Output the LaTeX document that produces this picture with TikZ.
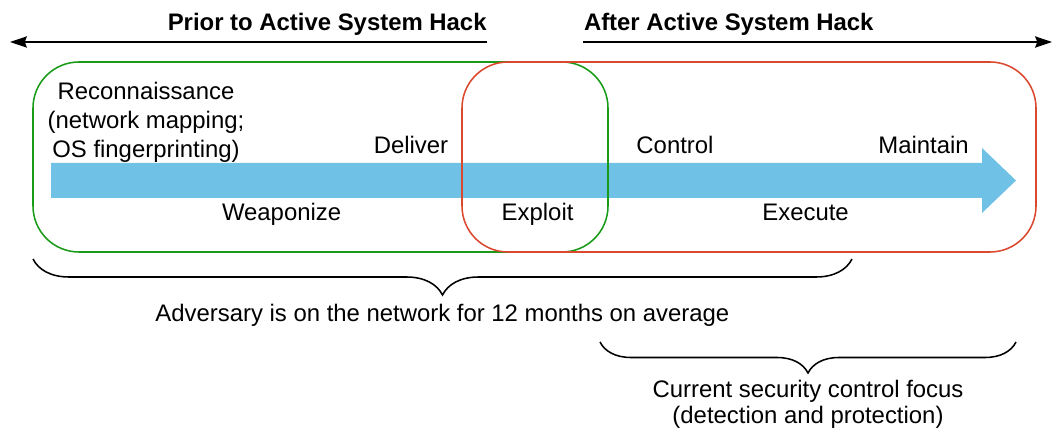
\documentclass[tikz,border=0pt]{standalone}
\usepackage{fontspec}
\setmainfont{Liberation Sans}
\usetikzlibrary{arrows.meta,decorations.pathreplacing}

\definecolor{hackgreen}{RGB}{25,155,25}
\definecolor{hackred}{RGB}{218,72,45}
\definecolor{flowblue}{RGB}{111,194,230}

\tikzset{
  txt/.style={font=\fontsize{17}{20}\selectfont, inner sep=0pt},
  phase/.style={txt, anchor=base},
  heading/.style={txt, anchor=base, font=\fontsize{17}{20}\selectfont\bfseries},
  timeline/.style={line width=1.1pt, -{Stealth[length=12pt,width=8pt,inset=1.5pt]}},
  stagebox/.style={line width=1.1pt, rounded corners=1.15cm},
  curly/.style={line width=1.1pt, decorate, decoration={brace, amplitude=#1}}
}

\begin{document}
\begin{tikzpicture}
\useasboundingbox (0,0) rectangle (26.3,-10.75);

% headings and timeline arrows
\node[heading] (prior) at (8.18,-0.775) {Prior to Active System Hack};
\node[heading] (after) at (18.22,-0.775) {After Active System Hack};
\coordinate (priorstart) at (12.175,-1.05);
\coordinate (priorend) at (0.25,-1.05);
\coordinate (afterstart) at (14.575,-1.05);
\coordinate (afterend) at (26.3,-1.05);
\draw[timeline] (priorstart) -- (priorend);
\draw[timeline] (afterstart) -- (afterend);

% kill chain arrow
\fill[flowblue] (1.275,-4.075) -- (24.55,-4.075) -- (24.55,-3.7) -- (25.4,-4.5125)
  -- (24.55,-5.325) -- (24.55,-4.95) -- (1.275,-4.95) -- cycle;

% before / after boxes
\draw[stagebox, hackgreen] (0.825,-1.55) rectangle (15.2,-6.3);
\draw[stagebox, hackred] (11.55,-1.55) rectangle (25.9,-6.3);

% stages
\node[txt, anchor=north, align=center, font=\fontsize{17}{20.5}\selectfont] (recon) at (3.65,-2.05)
  {Reconnaissance\\(network mapping;\\OS fingerprinting)};
\node[phase] (deliver) at (10.275,-3.85) {Deliver};
\node[phase] (control) at (16.875,-3.85) {Control};
\node[phase] (maintain) at (23.09,-3.85) {Maintain};
\node[phase] (weaponize) at (7.04,-5.525) {Weaponize};
\node[phase] (exploit) at (13.44,-5.525) {Exploit};
\node[phase] (execute) at (20.14,-5.525) {Execute};

% dwell time
\coordinate (dwellR) at (21.3,-6.475);
\coordinate (dwellL) at (0.825,-6.475);
\draw[curly=0.9cm] (dwellR) -- (dwellL);
\node[phase] (dwell) at (11.06,-8.04) {Adversary is on the network for 12 months on average};

% current focus
\coordinate (focusR) at (25.4,-8.55);
\coordinate (focusL) at (15.0,-8.55);
\draw[curly=0.775cm] (focusR) -- (focusL);
\node[txt, anchor=north, align=center, font=\fontsize{17}{18.5}\selectfont] (focus) at (20.2,-9.5)
  {Current security control focus\\(detection and protection)};
\end{tikzpicture}
\end{document}
